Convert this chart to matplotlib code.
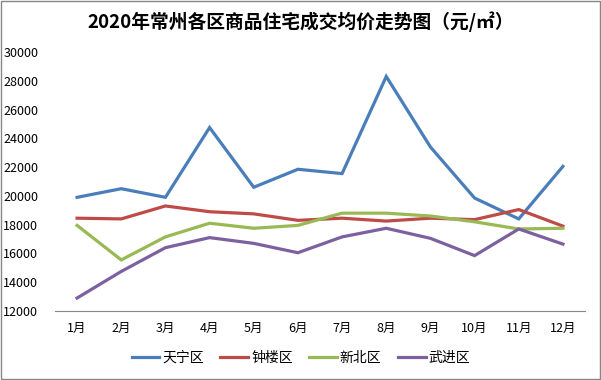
import matplotlib.pyplot as plt
from matplotlib.patches import Rectangle

plt.rcParams['font.family'] = ['Noto Sans CJK SC', 'DejaVu Sans']

months = ['1月', '2月', '3月', '4月', '5月', '6月', '7月', '8月', '9月', '10月', '11月', '12月']
tianning = [19900, 20500, 19900, 24750, 20600, 21850, 21550, 28300, 23400, 19850, 18400, 22050]
zhonglou = [18450, 18400, 19300, 18900, 18750, 18300, 18450, 18250, 18450, 18350, 19050, 17900]
xinbei = [17950, 15550, 17150, 18100, 17750, 17950, 18800, 18800, 18600, 18200, 17700, 17750]
wujin = [12900, 14750, 16400, 17100, 16700, 16050, 17150, 17750, 17050, 15850, 17700, 16650]

names = ['天宁区', '钟楼区', '新北区', '武进区']
colors = ['#4A7EBB', '#BE4B48', '#98B954', '#7D60A0']

fig = plt.figure(figsize=(6.01, 3.8), dpi=100)
ax = fig.add_axes([55 / 601, 1 - 311 / 380, 530 / 601, 259 / 380])

x = range(len(months))
for vals, name, c in zip([tianning, zhonglou, xinbei, wujin], names, colors):
    ax.plot(x, vals, color=c, lw=2.3, label=name, solid_joinstyle='miter')

ax.set_ylim(12000, 30000)
ax.set_yticks(range(12000, 30001, 2000))
ax.set_xlim(-0.5, 11.5)
ax.set_xticks(list(x))
ax.set_xticklabels(months)
ax.tick_params(axis='both', length=0, labelsize=9)
ax.tick_params(axis='x', pad=8)
ax.tick_params(axis='y', pad=12)
for s in ['top', 'right', 'left']:
    ax.spines[s].set_visible(False)
ax.spines['bottom'].set_color('#868686')

ax.legend(loc='upper center', bbox_to_anchor=(0.464, -0.105), ncol=4, frameon=False,
          fontsize=10, handlelength=2.0, columnspacing=1.2, handletextpad=0.2)

fig.text(0.5, 1 - 22 / 380, '2020年常州各区商品住宅成交均价走势图（元/㎡）',
         ha='center', va='center', fontsize=13.5, fontweight='bold')

fig.patches.append(Rectangle((0.002, 0.003), 0.996, 0.994, transform=fig.transFigure,
                             fill=False, edgecolor='#868686', lw=1))

fig.savefig('out.png', dpi=100)
